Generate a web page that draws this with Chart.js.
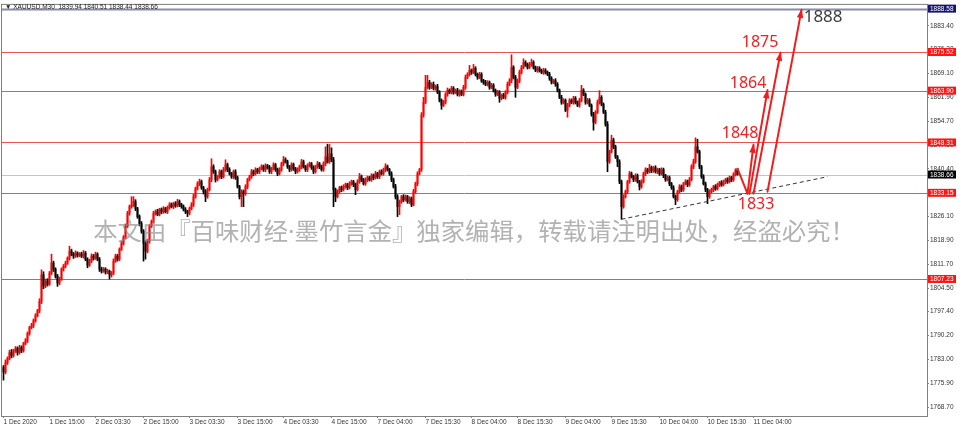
<!DOCTYPE html>
<html><head><meta charset="utf-8">
<script src="https://cdn.jsdelivr.net/npm/chart.js@4.4.1/dist/chart.umd.min.js"></script>
<style>html,body{margin:0;padding:0;background:#fff;overflow:hidden}#wrap{position:relative;width:960px;height:429px;background:#fff}</style>
</head><body><div id="wrap"><canvas id="c"></canvas></div>
<script>
// ---- data (XAUUSD M30, 1 Dec - 10 Dec 2020) ----
const firstOpen = 1780.6;
const closes = [
1779.2,1782.1,1783.3,1785.1,1784.2,1785.7,1786.3,1785.1,1786.6,1785.7,
1787.8,1788.7,1790.8,1792.6,1793.2,1794.7,1796.2,1797.7,1800.5,1808.5,
1805.1,1806.6,1805.7,1809.0,1812.0,1810.2,1808.1,1806.0,1807.2,1810.2,
1811.1,1812.0,1813.5,1815.6,1814.7,1814.1,1815.0,1814.4,1814.7,1814.1,
1815.0,1813.2,1811.4,1812.6,1814.1,1813.5,1814.7,1813.2,1810.2,1809.6,
1810.2,1809.3,1809.6,1808.4,1809.0,1812.6,1814.1,1813.2,1816.2,1818.0,
1819.8,1823.1,1827.0,1829.0,1829.4,1830.5,1828.4,1826.0,1823.9,1821.6,
1818.0,1815.6,1818.6,1823.1,1824.6,1827.0,1827.5,1826.7,1828.1,1827.5,
1828.4,1827.5,1828.7,1829.6,1829.0,1829.9,1829.3,1830.5,1829.6,1829.0,
1828.1,1827.5,1827.0,1828.4,1829.6,1832.0,1834.4,1835.9,1836.5,1834.7,
1833.5,1832.0,1834.1,1837.1,1841.0,1839.5,1837.1,1838.0,1839.5,1838.0,
1840.1,1841.6,1840.1,1838.9,1838.0,1839.5,1837.7,1835.0,1832.0,1833.5,
1832.9,1835.0,1837.1,1838.0,1839.5,1838.9,1840.1,1839.5,1840.4,1841.0,
1840.1,1841.3,1840.7,1839.5,1840.4,1841.6,1840.1,1838.9,1840.1,1841.9,
1843.1,1842.5,1841.0,1840.1,1841.6,1840.4,1839.5,1840.1,1841.0,1842.5,
1841.0,1840.1,1841.3,1841.9,1840.7,1839.5,1841.0,1841.9,1841.0,1840.1,
1841.9,1844.0,1842.5,1844.9,1843.1,1834.1,1832.0,1833.5,1834.7,1834.1,
1835.0,1835.6,1834.7,1835.9,1836.5,1835.6,1834.1,1836.5,1838.0,1837.1,
1835.9,1837.1,1837.7,1837.1,1838.3,1837.7,1838.9,1838.0,1839.5,1838.9,
1840.1,1841.0,1840.1,1838.9,1837.1,1835.0,1832.0,1829.0,1830.5,1832.0,
1831.1,1832.0,1830.5,1831.4,1829.6,1833.5,1835.9,1838.9,1840.1,1856.5,
1860.4,1864.9,1866.4,1864.9,1865.8,1864.6,1865.2,1863.4,1861.0,1859.5,
1860.4,1862.8,1864.0,1863.4,1864.6,1863.4,1864.0,1862.8,1863.7,1862.8,
1864.9,1867.9,1868.8,1870.0,1869.4,1870.6,1868.8,1867.9,1868.8,1866.9,
1866.4,1865.8,1866.4,1864.9,1865.5,1864.0,1862.8,1863.4,1861.6,1862.5,
1861.9,1863.4,1865.8,1866.9,1870.9,1867.9,1864.9,1866.9,1869.4,1870.9,
1872.4,1871.8,1870.9,1871.8,1872.4,1870.9,1870.0,1870.6,1870.0,1869.4,
1870.0,1869.4,1868.8,1867.6,1866.4,1866.9,1865.8,1864.0,1861.9,1860.4,
1861.0,1858.0,1859.5,1861.0,1860.4,1861.6,1860.4,1859.5,1861.0,1864.0,
1862.8,1860.4,1861.0,1859.5,1856.8,1854.4,1857.4,1860.4,1861.9,1859.8,
1857.4,1853.8,1842.5,1845.5,1849.0,1847.0,1844.0,1842.5,1836.5,1829.0,
1832.0,1833.5,1836.5,1838.9,1838.0,1837.1,1838.3,1836.5,1835.0,1836.5,
1838.9,1840.1,1839.5,1840.7,1839.8,1840.7,1839.5,1840.1,1838.9,1840.1,
1838.3,1837.1,1837.7,1835.9,1834.7,1832.0,1831.1,1833.5,1835.0,1834.1,
1835.9,1836.5,1835.6,1837.1,1841.0,1842.5,1847.0,1845.5,1841.0,1838.0,
1835.9,1834.1,1832.0,1833.5,1834.1,1835.0,1834.4,1835.6,1836.2,1835.6,
1836.5,1837.1,1836.5,1837.7,1837.1,1838.6,1839.9,1838.66];
const wickUp = [
0.6,0.8,0.5,0.7,0.9,0.4,0.6,0.5,0.7,0.5, 0.4,0.6,0.5,0.4,0.7,0.5,0.6,0.4,0.8,1.5,
0.9,0.6,0.7,0.5,2.7,0.6,0.4,0.5,0.6,0.4, 0.5,0.6,0.4,1.5,0.6,0.5,0.7,0.4,0.5,0.6,
0.8,0.5,0.4,0.6,0.7,0.5,0.6,0.4,0.5,0.6, 0.5,0.4,0.6,0.3,0.5,0.7,0.6,0.5,0.4,0.6,
0.5,0.7,0.6,0.5,2.6,1.5,0.6,0.4,0.5,0.6, 0.5,0.7,0.6,0.5,0.4,0.6,0.5,0.7,0.4,0.5,
0.6,0.4,0.5,0.6,0.5,0.4,0.6,0.7,0.5,0.4, 0.5,0.6,0.4,0.5,0.6,0.7,0.5,0.6,0.8,0.5,
0.4,0.6,0.5,0.7,2.4,0.6,0.5,0.4,0.6,0.5, 0.7,1.5,0.5,0.6,0.4,0.5,0.6,0.5,0.4,0.6,
0.5,0.6,0.4,0.5,0.7,0.5,0.6,0.4,0.5,0.6, 0.5,0.6,0.4,0.7,0.5,0.6,0.4,0.5,0.6,0.5,
1.0,0.6,0.5,0.4,0.6,0.5,0.4,0.6,0.5,0.7, 0.5,0.4,0.6,0.5,0.4,0.6,0.5,0.7,0.4,0.5,
0.6,3.0,3.8,2.8,1.8,0.7,0.5,0.6,0.4,0.5, 0.6,0.5,0.4,0.6,0.5,0.4,0.5,0.6,1.0,0.5,
0.4,0.6,0.5,0.4,0.6,0.5,0.7,0.4,0.5,0.6, 0.5,0.9,0.5,0.4,0.6,0.5,0.7,0.6,0.5,0.4,
0.6,0.5,0.4,0.6,0.5,0.7,0.5,0.6,0.4,0.8, 1.5,3.6,2.1,0.6,0.5,0.7,0.4,0.6,0.5,0.4,
0.6,0.5,0.7,0.4,0.6,0.5,0.4,0.6,0.5,0.4, 0.6,0.7,0.5,1.5,0.4,1.2,0.5,0.4,0.6,0.5,
0.4,0.6,0.5,0.4,0.6,0.5,0.4,0.6,0.5,0.4, 0.6,0.5,0.7,0.6,3.8,0.5,0.6,0.5,0.7,0.6,
1.1,0.5,0.4,0.6,1.0,0.5,0.4,0.6,0.5,0.4, 0.6,0.5,0.4,0.6,0.5,0.4,0.6,0.5,0.4,0.6,
0.5,0.4,0.6,0.5,0.4,0.6,0.5,0.4,0.6,1.5, 0.5,0.4,0.6,0.5,0.4,0.6,0.5,0.7,2.0,0.5,
0.4,0.6,0.8,0.5,1.5,0.6,0.5,0.4,0.6,0.5, 0.6,0.5,0.4,0.7,0.5,0.4,0.6,0.5,0.4,0.6,
0.5,0.6,0.4,1.0,0.5,0.4,0.6,0.5,0.4,0.6, 0.5,0.4,0.6,0.5,0.4,0.6,0.5,0.4,0.6,0.5,
0.4,0.6,0.5,0.7,0.6,0.8,2.7,2.3,0.5,0.4, 0.6,0.5,0.4,0.6,0.5,0.4,0.6,0.5,0.4,0.6,
0.5,0.4,0.6,0.5,0.4,0.6,0.5,0.6];
const wickDown = [
2.4,0.5,0.6,0.4,0.7,0.5,0.6,0.8,0.5,0.6, 0.5,0.4,0.6,0.5,0.4,0.6,0.5,0.4,0.6,0.7,
0.8,0.5,0.6,0.4,0.5,0.7,0.6,1.0,0.5,0.4, 0.6,0.5,0.4,0.6,0.5,0.7,0.4,0.6,0.5,0.4,
0.6,0.5,0.8,0.4,0.5,0.6,0.4,0.5,0.7,0.6, 0.4,0.6,0.5,1.2,0.6,0.5,0.4,0.6,0.5,0.4,
0.6,0.5,0.4,0.6,0.5,0.4,0.6,0.5,0.7,0.6, 5.4,2.4,0.5,0.6,0.4,0.5,0.6,0.4,0.5,0.6,
0.5,0.4,0.6,0.5,0.4,0.6,0.5,0.4,0.6,0.5, 0.4,0.6,1.0,0.5,0.4,0.6,0.5,0.4,0.6,0.5,
0.7,1.5,0.5,0.4,0.6,0.5,0.7,0.4,0.5,0.6, 0.4,0.5,0.6,0.4,0.5,0.6,0.5,0.4,0.7,3.0,
3.9,0.5,0.6,0.4,0.5,0.6,0.4,0.5,0.6,0.4, 0.5,0.6,0.4,0.5,0.6,0.4,0.5,0.6,0.4,0.5,
0.6,0.4,0.5,0.6,0.4,0.5,0.6,0.4,0.5,0.6, 0.4,0.5,0.6,0.4,0.5,0.6,0.4,0.5,0.6,0.4,
0.5,0.6,0.4,0.5,0.6,5.1,1.5,0.4,0.5,0.6, 0.4,0.5,0.6,0.4,0.5,0.6,1.5,0.4,0.5,0.6,
0.4,0.5,0.6,0.4,0.5,0.6,0.4,0.5,0.6,0.4, 0.5,0.6,0.4,0.5,0.6,0.4,0.7,3.0,2.4,0.5,
0.6,0.4,0.5,0.6,0.6,0.4,0.5,0.6,0.4,0.5, 0.6,0.4,0.5,0.6,0.4,0.5,0.6,0.4,0.5,1.2,
0.4,0.5,0.6,0.4,0.5,0.6,0.4,0.5,0.6,0.4, 0.5,0.6,0.4,0.5,0.6,0.4,0.5,0.6,0.4,0.5,
0.6,0.4,0.5,0.6,0.4,0.5,0.6,0.4,1.2,0.5, 0.4,0.6,0.5,0.4,0.6,0.5,3.0,0.4,0.6,0.5,
0.4,0.6,0.5,0.4,0.6,0.5,0.4,0.6,0.5,0.4, 0.6,0.5,0.4,0.6,0.5,0.4,0.6,0.5,0.4,0.6,
0.5,0.4,2.1,0.5,0.4,0.6,0.5,0.4,0.6,0.5, 0.4,0.6,0.5,0.4,0.6,2.4,0.5,0.4,0.6,0.5,
0.4,0.6,3.0,0.5,0.4,0.6,0.5,1.5,0.6,3.8, 0.5,0.4,0.6,0.5,0.4,0.6,0.5,0.4,1.0,0.5,
0.4,0.6,0.5,0.4,0.6,0.5,0.4,0.6,0.5,0.4, 0.6,0.5,0.4,0.6,0.5,0.4,1.5,0.5,0.4,0.6,
0.5,0.4,0.6,0.5,0.4,0.6,0.5,0.4,0.6,0.5, 0.4,0.6,2.1,0.5,0.4,0.6,0.5,0.4,0.6,0.5,
0.4,0.6,0.5,0.4,0.6,0.5,0.4,0.2];

const xTickBars = [0,23,46,70,93,117,140,164,187,211,234,257,281,304,328,352,375];
const xTickLabels = ['1 Dec 2020','1 Dec 15:00','2 Dec 03:30','2 Dec 15:00','3 Dec 03:30','3 Dec 15:00','4 Dec 03:30','4 Dec 15:00','7 Dec 04:00','7 Dec 15:30','8 Dec 04:00','8 Dec 15:30','9 Dec 04:00','9 Dec 15:30','10 Dec 04:00','10 Dec 15:30','11 Dec 04:00'];
const yTicks = [1883.40,1876.30,1869.10,1861.90,1854.70,1847.50,1840.40,1833.20,1826.10,1818.90,1811.70,1804.50,1797.40,1790.20,1783.00,1775.90,1768.70];
const levels = [1875.52,1863.90,1848.31,1833.15,1807.23];
const lastPrice = 1838.66;
const topLine = 1888.58;
const title = '\u25BC XAUUSD,M30  1839.94 1840.51 1838.44 1838.66';
const watermark = '本文由『百味财经·墨竹言金』独家编辑，转载请注明出处，经盗必究！';
// annotations (bar index, price)
const trendFrom = [309, 1825.2], trendTo = [412, 1838.0];
const dropFrom = [367, 1840.4], dropTo = [372, 1832.9];
const targetNames = ['1848','1864','1875','1888'];
const arrowStartBar = [372, 373, 375, 382];
const arrowStartPrice = [1832.9, 1832.9, 1832.9, 1833.5];
const arrowEndBar = [375, 382, 388.5, 399];
const arrowEndPrice = [1847.6, 1864.0, 1875.3, 1888.2];
const labelBar = [368.3, 372.3, 378.3, 409.8];
const labelPrice = [1851.1, 1866.1, 1878.3, 1886.1];
const supportName = '1833', supportBar = 376.3, supportPrice = 1829.6;

// ---- build datasets ----
const opens = closes.map((c, i) => i === 0 ? firstOpen : closes[i - 1]);
const UP = '#ff0000', DOWN = '#000000';
const colors = closes.map((c, i) => c >= opens[i] ? UP : DOWN);
const bodies = closes.map((c, i) => ({x: i, y: [opens[i], c]}));
const wicks = closes.map((c, i) => ({x: i, y: [Math.min(opens[i], c) - wickDown[i], Math.max(opens[i], c) + wickUp[i]]}));

const AX_FONT = {family: 'Liberation Sans', size: 6.5};

function arrowLine(ctx, x1, y1, x2, y2, head) {
  ctx.beginPath(); ctx.moveTo(x1, y1); ctx.lineTo(x2, y2); ctx.stroke();
  if (head) {
    const a = Math.atan2(y2 - y1, x2 - x1), L = 8, W = 3.2;
    ctx.beginPath();
    ctx.moveTo(x2 + Math.cos(a) * 1.5, y2 + Math.sin(a) * 1.5);
    ctx.lineTo(x2 - L * Math.cos(a) + W * Math.sin(a), y2 - L * Math.sin(a) - W * Math.cos(a));
    ctx.lineTo(x2 - L * Math.cos(a) - W * Math.sin(a), y2 - L * Math.sin(a) + W * Math.cos(a));
    ctx.closePath(); ctx.fill();
  }
}

const overlay = {
  id: 'overlay',
  beforeDatasetsDraw(chart) {
    const {ctx, chartArea: a, scales: {y}} = chart;
    ctx.save();
    ctx.beginPath(); ctx.rect(a.left, a.top, a.right - a.left, a.bottom - a.top); ctx.clip();
    const hline = (v, color, w) => {
      const py = Math.round(y.getPixelForValue(v)) + 0.5;
      ctx.strokeStyle = color; ctx.lineWidth = w;
      ctx.beginPath(); ctx.moveTo(a.left, py); ctx.lineTo(a.right, py); ctx.stroke();
    };
    hline(lastPrice, '#c4c4c4', 1);
    levels.forEach(v => hline(v, '#e85555', 1));
    hline(topLine, '#8a8ab0', 2);
    ctx.restore();
  },
  afterDatasetsDraw(chart) {
    const {ctx, chartArea: a, scales: {x, y}} = chart;
    ctx.save();
    // watermark
    const fam = '"Noto Sans", "Noto Sans CJK SC"';
    ctx.font = '24px ' + fam;
    const w = ctx.measureText(watermark).width;
    const fs = 24 * 762 / w;
    ctx.font = fs.toFixed(2) + 'px ' + fam;
    ctx.fillStyle = 'rgba(130,130,130,0.62)';
    ctx.textAlign = 'center'; ctx.textBaseline = 'middle';
    ctx.fillText(watermark, 474, 233);
    // trend line
    ctx.strokeStyle = '#333'; ctx.lineWidth = 1; ctx.setLineDash([4, 3]);
    ctx.beginPath();
    ctx.moveTo(x.getPixelForValue(trendFrom[0]), y.getPixelForValue(trendFrom[1]));
    ctx.lineTo(x.getPixelForValue(trendTo[0]), y.getPixelForValue(trendTo[1]));
    ctx.stroke(); ctx.setLineDash([]);
    // arrows
    ctx.strokeStyle = '#f21c1c'; ctx.fillStyle = '#f21c1c'; ctx.lineWidth = 2; ctx.lineCap = 'round';
    arrowLine(ctx, x.getPixelForValue(dropFrom[0]), y.getPixelForValue(dropFrom[1]), x.getPixelForValue(dropTo[0]), y.getPixelForValue(dropTo[1]), false);
    for (let k = 0; k < targetNames.length; k++) {
      arrowLine(ctx, x.getPixelForValue(arrowStartBar[k]), y.getPixelForValue(arrowStartPrice[k]),
        x.getPixelForValue(arrowEndBar[k]), y.getPixelForValue(arrowEndPrice[k]), true);
    }
    // labels
    ctx.textAlign = 'center'; ctx.textBaseline = 'middle';
    for (let k = 0; k < targetNames.length; k++) {
      const last = k === targetNames.length - 1;
      ctx.font = (last ? '17px' : '16px') + ' "Noto Sans"';
      ctx.fillStyle = last ? '#3c3c3c' : '#f02020';
      ctx.fillText(targetNames[k], x.getPixelForValue(labelBar[k]), y.getPixelForValue(labelPrice[k]));
    }
    ctx.font = '16px "Noto Sans"'; ctx.fillStyle = '#f02020';
    ctx.fillText(supportName, x.getPixelForValue(supportBar), y.getPixelForValue(supportPrice));
    ctx.restore();
  },
  afterDraw(chart) {
    const {ctx, chartArea: a, scales: {y}} = chart;
    ctx.save();
    // frame
    ctx.strokeStyle = '#808080'; ctx.lineWidth = 1;
    ctx.strokeRect(a.left - 0.5, a.top - 0.5, a.right - a.left + 1, a.bottom - a.top + 1);
    // price boxes on axis
    const box = (v, bg) => {
      const py = y.getPixelForValue(v);
      ctx.fillStyle = bg; ctx.fillRect(a.right + 1, py - 4, 28, 8);
      ctx.fillStyle = '#fff'; ctx.font = '6.5px "Liberation Sans"';
      ctx.textAlign = 'left'; ctx.textBaseline = 'middle';
      ctx.fillText(v.toFixed(2), a.right + 3, py + 0.5);
    };
    levels.forEach(v => box(v, '#ff1414'));
    box(lastPrice, '#000');
    box(topLine, '#14146e');
    // title
    ctx.fillStyle = '#222'; ctx.font = '6.5px "Liberation Sans"';
    ctx.textAlign = 'left'; ctx.textBaseline = 'middle';
    ctx.fillText(title, a.left + 3, 7);
    ctx.restore();
  }
};

new Chart(document.getElementById('c'), {
  type: 'bar',
  data: {
    datasets: [
      {data: wicks, backgroundColor: colors, barThickness: 1, grouped: false, borderWidth: 0, minBarLength: 1},
      {data: bodies, backgroundColor: colors, barThickness: 1.2, grouped: false, borderWidth: 0, minBarLength: 1}
    ]
  },
  options: {
    responsive: true, maintainAspectRatio: false, animation: false,
    layout: {padding: {left: 2, top: 2, right: 0, bottom: 0}},
    plugins: {legend: {display: false}, tooltip: {enabled: false}},
    scales: {
      x: {
        type: 'linear', min: -0.75, max: 461.75, offset: false,
        afterBuildTicks: s => { s.ticks = xTickBars.map(v => ({value: v})); },
        afterFit: s => { s.height = 13; },
        ticks: {autoSkip: false, maxRotation: 0, align: 'start', padding: 0, color: '#333', font: AX_FONT,
          callback: (v, i) => xTickLabels[i]},
        grid: {drawOnChartArea: false, drawTicks: true, tickLength: 2, color: '#808080', offset: false},
        border: {display: true, color: '#808080'}
      },
      y: {
        position: 'right', min: 1766.0, max: 1889.7,
        afterBuildTicks: s => { s.ticks = yTicks.map(v => ({value: v})); },
        afterFit: s => { s.width = 33; },
        ticks: {padding: 1, color: '#333', font: AX_FONT, callback: v => Number(v).toFixed(2)},
        grid: {drawOnChartArea: false, drawTicks: true, tickLength: 2, color: '#808080'},
        border: {display: true, color: '#808080'}
      }
    }
  },
  plugins: [overlay]
});
</script>
</body></html>
